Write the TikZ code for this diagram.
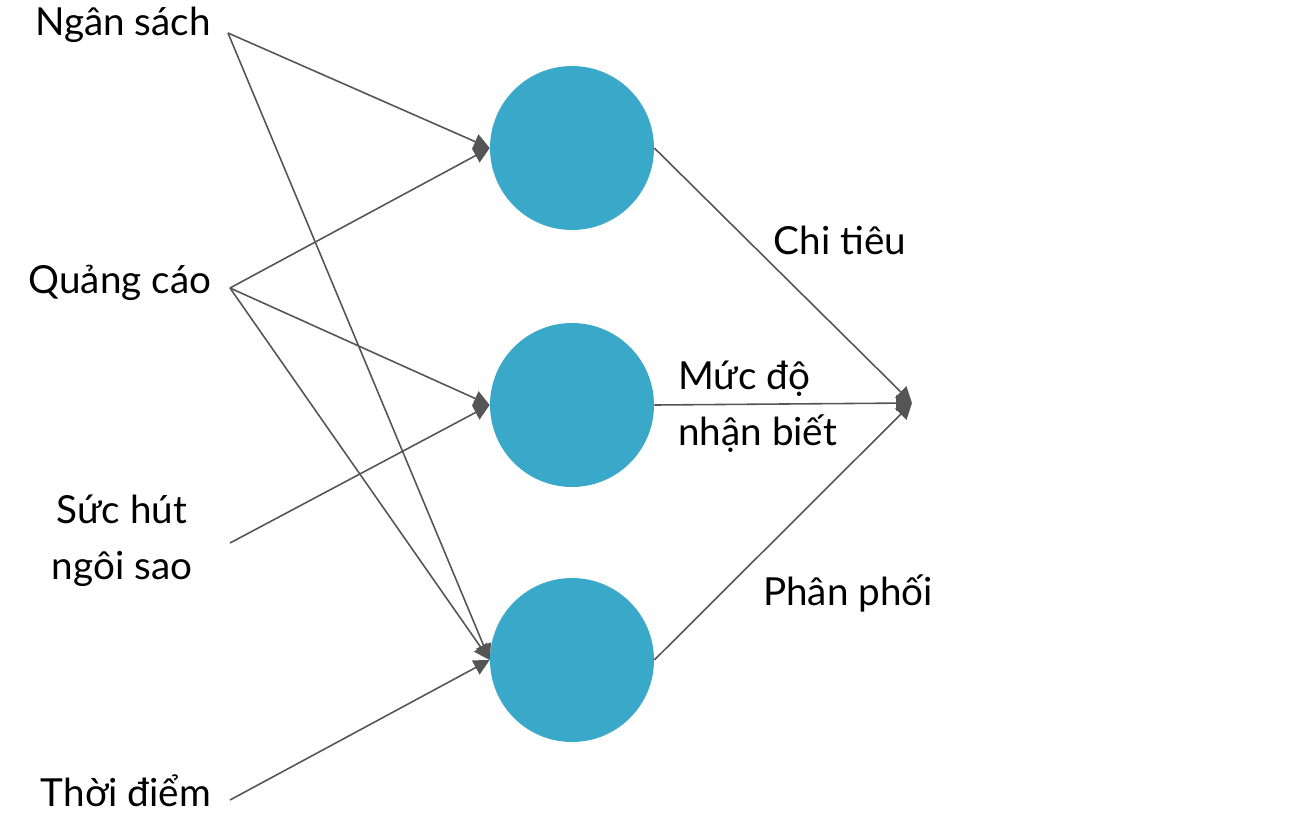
\documentclass[tikz,border=0pt]{standalone}
\usepackage{fontspec}
\setmainfont{Lato}
\usetikzlibrary{arrows.meta}
\definecolor{neuron}{HTML}{3AA8C8}
\definecolor{wire}{HTML}{555555}
\tikzset{
  unit/.style={circle, fill=neuron, minimum size=3.28cm, inner sep=0pt},
  lbl/.style={font=\fontsize{22}{32}\selectfont, align=center},
  edge/.style={draw=wire, line width=0.9pt, -{Triangle[length=9pt,width=9pt]}}
}
\begin{document}
\begin{tikzpicture}[x=0.02cm, y=-0.02cm]
    \useasboundingbox (0,0) rectangle (1296,816);

      % inputs
      \node[lbl] (budget) at (123,25) {Ngân sách};
      \node[lbl] (ads) at (120,283) {Quảng cáo};
      \node[lbl] (star) at (122,541) {Sức hút\\ngôi sao};
      \node[lbl] (time) at (126,791) {Thời điểm};
      \coordinate (budgetO) at (228,33);
      \coordinate (adsO) at (230,288);
      \coordinate (starO) at (230,543);
      \coordinate (timeO) at (230,800);

      % hidden units
      \node[unit] (h1) at (572,148) {};
      \node[unit] (h2) at (572,405) {};
      \node[unit] (h3) at (572,660) {};

      % output
      \coordinate (out) at (912,403);

      \draw[edge] (budgetO) -- (h1.west);
      \draw[edge] (budgetO) -- (h3.west);
      \draw[edge] (adsO) -- (h1.west);
      \draw[edge] (adsO) -- (h2.west);
      \draw[edge] (adsO) -- (h3.west);
      \draw[edge] (starO) -- (h2.west);
      \draw[edge] (timeO) -- (h3.west);
      \draw[edge] (h1.east) -- (out);
      \draw[edge] (h2.east) -- (out);
      \draw[edge] (h3.east) -- (out);

      \node[lbl] (spend) at (840,240) {Chi tiêu};
      \node[lbl, align=left, anchor=west] (aware) at (672,407) {Mức độ\\nhận biết};
      \node[lbl] (dist) at (848,593) {Phân phối};
    \end{tikzpicture}
\end{document}
